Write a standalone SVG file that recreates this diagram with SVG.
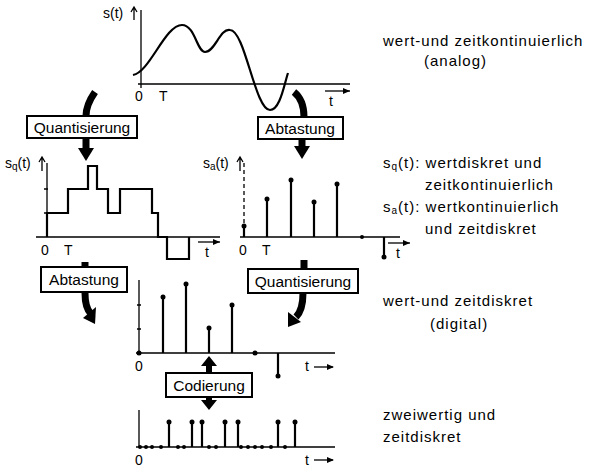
<svg xmlns="http://www.w3.org/2000/svg" width="600" height="475" viewBox="0 0 600 475">
<style>
text{font-family:"Liberation Sans",Arial,sans-serif;font-size:14px;fill:#000}
.lbl{font-size:15.5px}
.desc{font-size:15px;letter-spacing:1px}
.ax{stroke:#000;stroke-width:1.3;fill:none}
.sig{stroke:#000;stroke-width:2.2;fill:none}
.box{fill:#fff;stroke:#000;stroke-width:2}
.fat{stroke:#000;stroke-width:7;fill:none}
.dot{fill:#000}
</style>
<rect width="600" height="475" fill="#fff"/>
<g id="connectors">
<path class="fat" d="M95,92 Q86,105 86,116"/>
<path class="fat" d="M86,138 L86,150"/><polygon points="78,148 94,148 86,161"/>
<path class="fat" d="M294,92 Q304,100 304,117"/>
<path class="fat" d="M302,138 L302,148"/><polygon points="294,146 310,146 302,159"/>
<path class="fat" d="M85,262 L85,293 Q85,308 91,314"/><polygon points="83,318 96,307 95,324"/>
<path class="fat" d="M304,260 L304,270"/>
<path class="fat" d="M303,293 Q303,310 296,317"/><polygon points="288,312 301,322 288,327"/>
<polygon points="209,356 201,366 206,366 206,373 212,373 212,366 217,366"/>
<polygon points="209,410 201,400 206,400 206,397 212,397 212,400 217,400"/>
</g>
<g id="graph-analog">
<path class="ax" d="M141,88 V10 M138,84 H350"/>
<text x="103" y="18">s(t)</text><path class="ax" d="M134,20 V8 M131,12 L134,7 L137,12"/>
<path class="sig" d="M133,75 C150,72 165,25 182,25 C195,25 197,52 205,52 C215,52 220,28 230,30 C245,30 255,110 270,110 C280,110 284,85 288,73"/>
<text x="135" y="101">0</text><text x="159" y="101">T</text>
<path class="ax" d="M325,91 H350"/><polygon points="350,91 343,88 343,94"/><text x="329" y="106">t</text>
</g>
<g id="box-quant1"><rect class="box" x="27" y="116" width="110" height="22"/><text class="lbl" x="82" y="133" text-anchor="middle">Quantisierung</text></g>
<g id="box-abt1"><rect class="box" x="258" y="117" width="85" height="22"/><text class="lbl" x="300" y="134" text-anchor="middle">Abtastung</text></g>
<g id="graph-sq">
<text x="5" y="168">s<tspan font-size="10" dy="2">q</tspan><tspan dy="-2">(t)</tspan></text><path class="ax" d="M42,171 V158 M39,162 L42,157 L45,162"/>
<path class="ax" d="M47,163 V237 M36,237 H220 M44,189 H48 M44,213 H48"/>
<path class="sig" d="M47,237 V213 H68 V189 H88 V166 H97 V189 H108 V213 H120 V189 H152 V213 H158 V237 H167 V259 H189 V237"/>
<text x="41" y="255">0</text><text x="64" y="255">T</text>
<path class="ax" d="M198,242 H220"/><polygon points="220,242 213,239 213,245"/><text x="205" y="257">t</text>
</g>
<g id="graph-sa">
<text x="203" y="168">s<tspan font-size="10" dy="2">a</tspan><tspan dy="-2">(t)</tspan></text><path class="ax" d="M240,171 V158 M237,162 L240,157 L243,162"/>
<path class="ax" d="M244,163 V237" stroke-dasharray="4,3"/>
<path class="ax" d="M240,237 H400"/>
<path class="sig" d="M244,237 V226 M267,237 V199 M291,237 V180 M314,237 V202 M337,237 V184 M384,237 V257"/>
<circle class="dot" cx="244" cy="226" r="2.5"/><circle class="dot" cx="267" cy="199" r="2.5"/><circle class="dot" cx="291" cy="180" r="2.5"/><circle class="dot" cx="314" cy="202" r="2.5"/><circle class="dot" cx="337" cy="184" r="2.5"/><circle class="dot" cx="362" cy="237" r="2"/><circle class="dot" cx="384" cy="257" r="2.5"/>
<text x="239" y="255">0</text><text x="262" y="255">T</text>
<path class="ax" d="M388,243 H410"/><polygon points="410,243 403,240 403,246"/><text x="396" y="258">t</text>
</g>
<g id="box-abt2"><rect class="box" x="41" y="267" width="86" height="25"/><text class="lbl" x="84" y="285" text-anchor="middle">Abtastung</text></g>
<g id="box-quant2"><rect class="box" x="248" y="269" width="110" height="24"/><text class="lbl" x="303" y="287" text-anchor="middle">Quantisierung</text></g>
<g id="graph-digital">
<path class="ax" d="M139,280 V353 M136,353 H335 M137,305 H141 M137,329 H141"/>
<path class="sig" d="M163,353 V297 M186,353 V284 M209,353 V328 M232,353 V305 M278,353 V376"/>
<circle class="dot" cx="163" cy="297" r="2.5"/><circle class="dot" cx="186" cy="284" r="2.5"/><circle class="dot" cx="209" cy="328" r="2.5"/><circle class="dot" cx="232" cy="305" r="2.5"/><circle class="dot" cx="278" cy="376" r="2.5"/><circle class="dot" cx="139" cy="353" r="2.5"/><circle class="dot" cx="255" cy="353" r="2.5"/>
<text x="135" y="371">0</text>
<text x="305" y="371">t</text><path class="ax" d="M314,367 H333"/><polygon points="334,367 327,364 327,370"/>
</g>
<g id="box-cod"><rect class="box" x="166" y="373" width="86" height="24"/><text class="lbl" x="209" y="391" text-anchor="middle">Codierung</text></g>
<g id="graph-binary">
<path class="ax" d="M139,410 V447 M136,447 H335"/>
<path class="sig" d="M169,447 V422 M192,447 V422 M202,447 V422 M225,447 V422 M238,447 V422 M278,447 V422 M295,447 V422"/>
<g class="dot">
<circle cx="169" cy="422" r="2.5"/><circle cx="192" cy="422" r="2.5"/><circle cx="202" cy="422" r="2.5"/><circle cx="225" cy="422" r="2.5"/><circle cx="238" cy="422" r="2.5"/><circle cx="278" cy="422" r="2.5"/><circle cx="295" cy="422" r="2.5"/>
<circle cx="140" cy="447" r="2"/><circle cx="146" cy="447" r="2"/><circle cx="152" cy="447" r="2"/><circle cx="161" cy="447" r="2"/><circle cx="178" cy="447" r="2"/><circle cx="184" cy="447" r="2"/><circle cx="209" cy="447" r="2"/><circle cx="216" cy="447" r="2"/><circle cx="241" cy="447" r="2"/><circle cx="248" cy="447" r="2"/><circle cx="255" cy="447" r="2"/><circle cx="262" cy="447" r="2"/><circle cx="271" cy="447" r="2"/><circle cx="285" cy="447" r="2"/>
</g>
<text x="135" y="465">0</text>
<text x="305" y="465">t</text><path class="ax" d="M314,460 H333"/><polygon points="334,460 327,457 327,463"/>
</g>
<g id="descriptions">
<text class="desc" x="383" y="46">wert-und zeitkontinuierlich</text>
<text class="desc" x="424" y="66">(analog)</text>
<text class="desc" x="383" y="168">s<tspan font-size="10" dy="2">q</tspan><tspan dy="-2">(t): wertdiskret und</tspan></text>
<text class="desc" x="425" y="190">zeitkontinuierlich</text>
<text class="desc" x="383" y="212">s<tspan font-size="10" dy="2">a</tspan><tspan dy="-2">(t): wertkontinuierlich</tspan></text>
<text class="desc" x="425" y="234">und zeitdiskret</text>
<text class="desc" x="383" y="306">wert-und zeitdiskret</text>
<text class="desc" x="430" y="329">(digital)</text>
<text class="desc" x="383" y="420">zweiwertig und</text>
<text class="desc" x="383" y="442">zeitdiskret</text>
</g>
</svg>
